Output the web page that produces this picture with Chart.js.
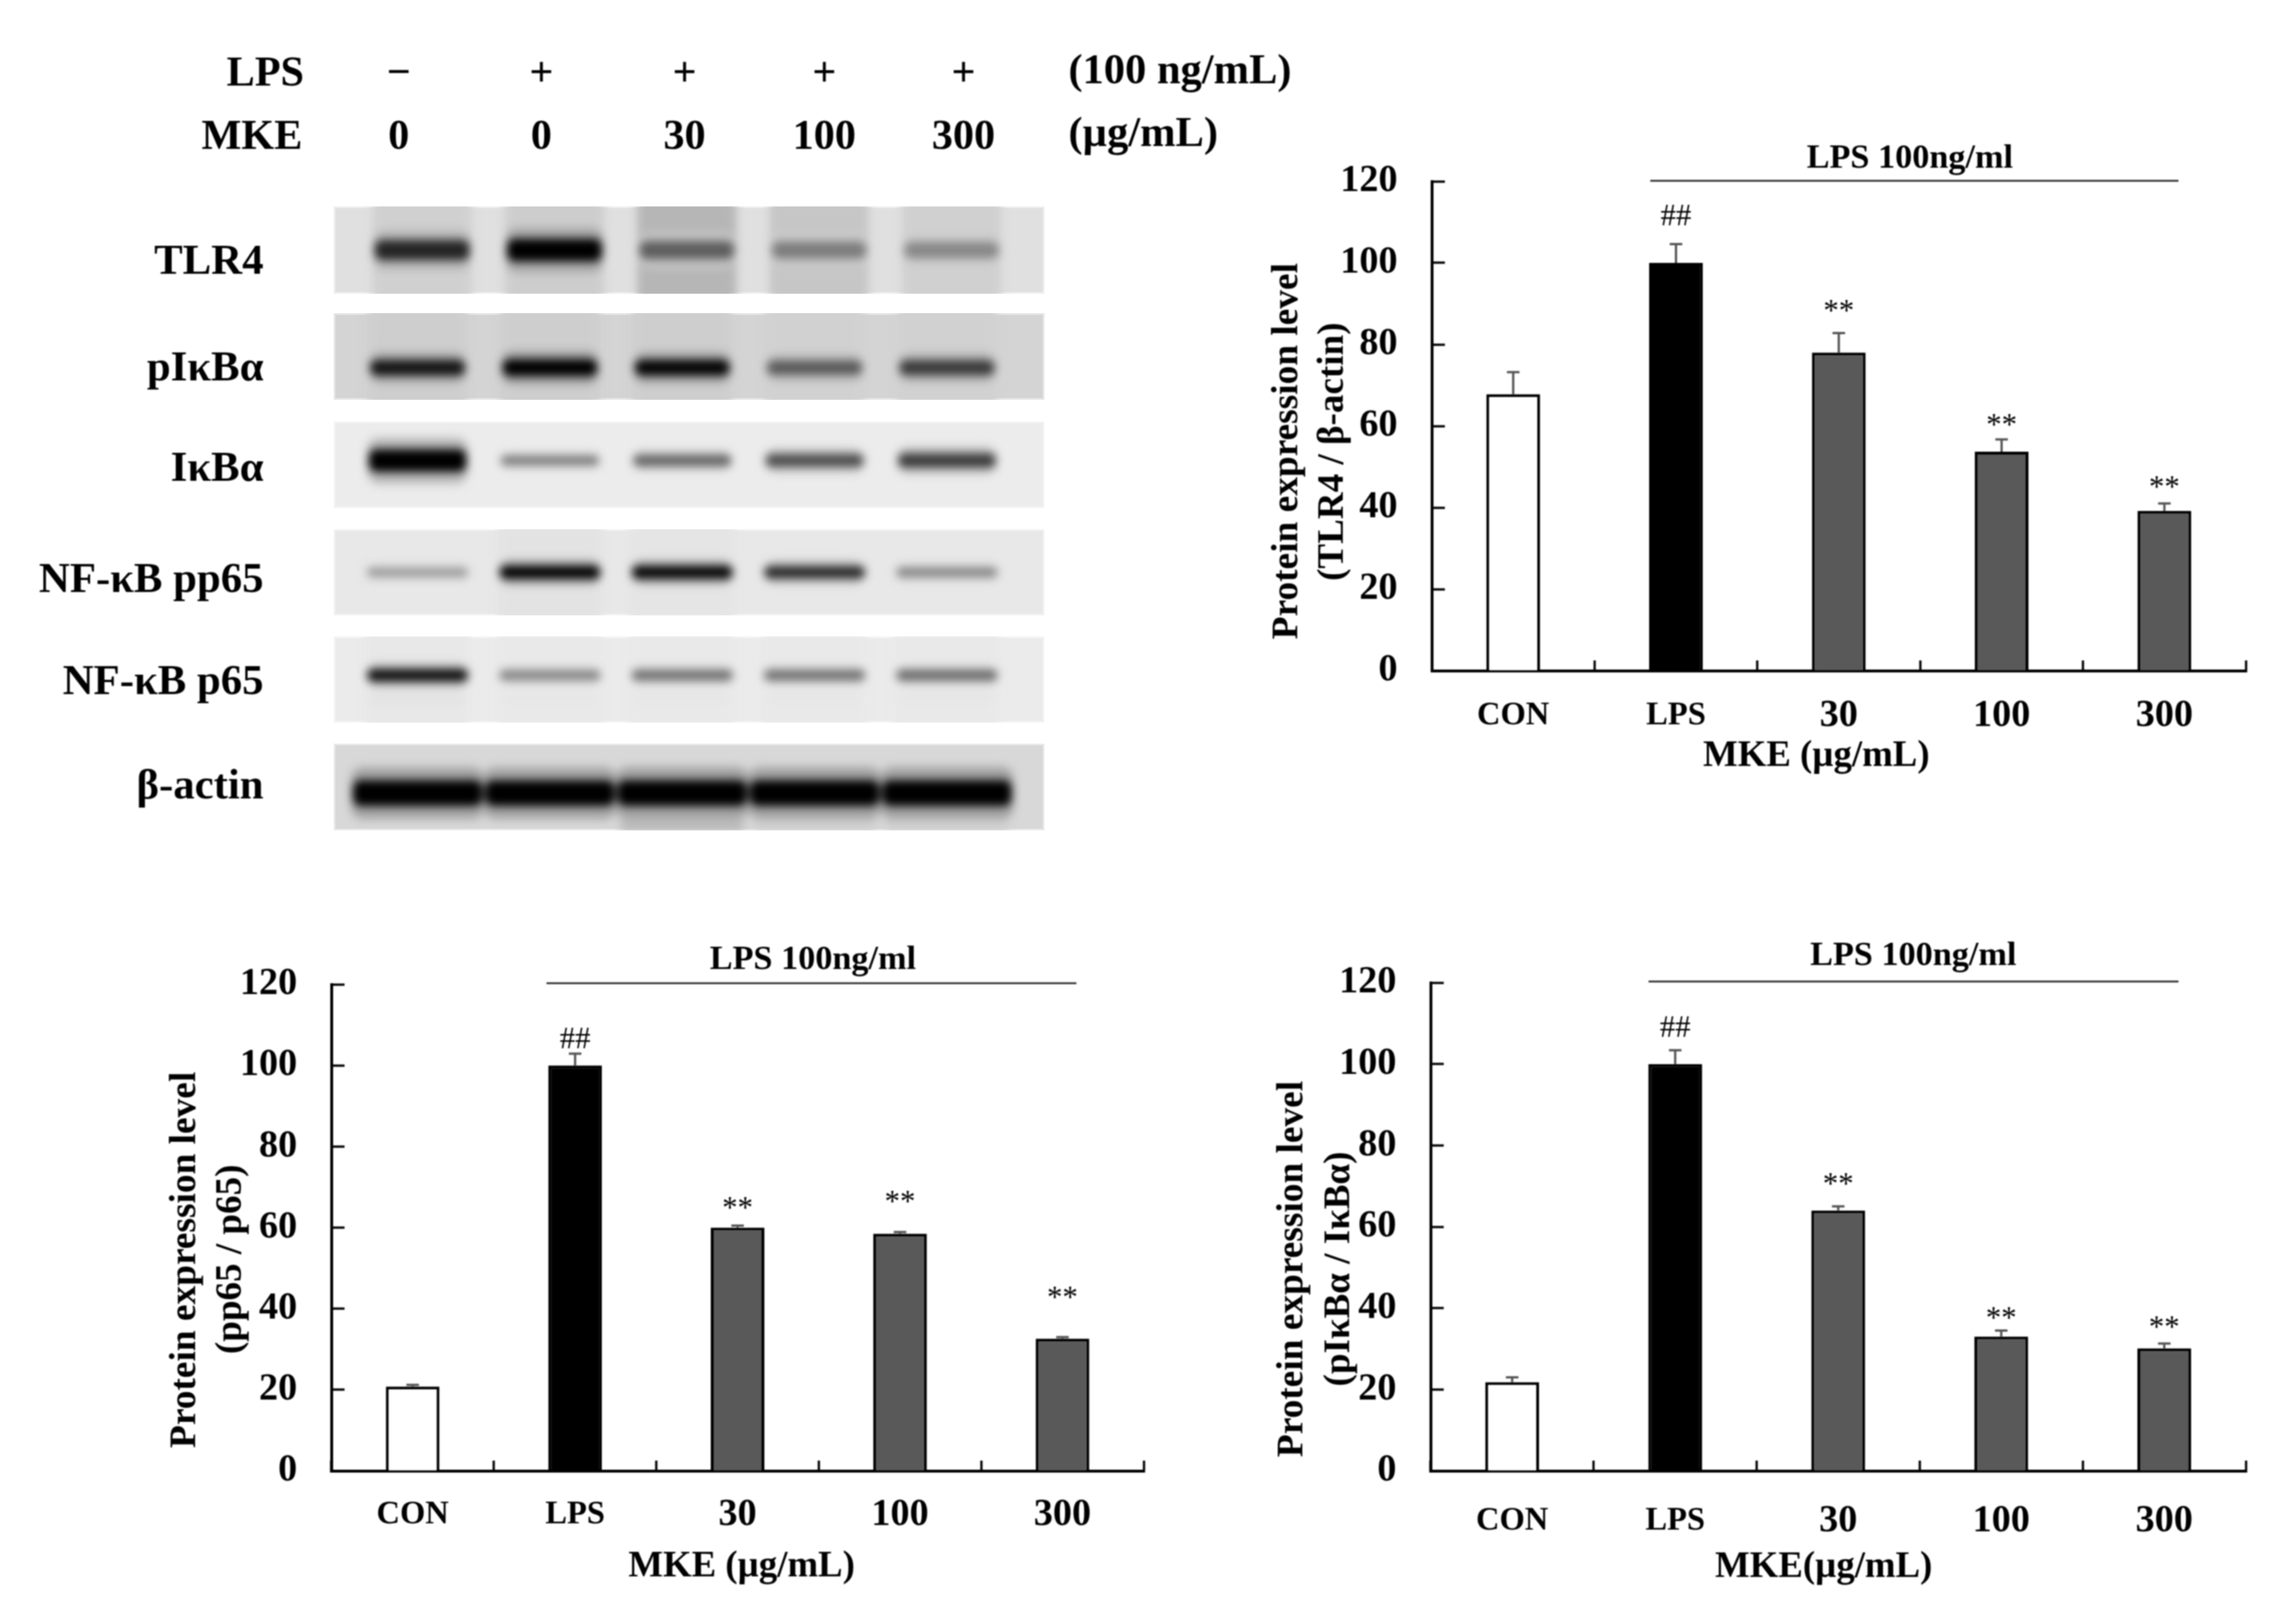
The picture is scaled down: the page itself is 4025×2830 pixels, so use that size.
<!DOCTYPE html>
<html>
<head>
<meta charset="utf-8">
<title>MKE western blot</title>
<script src="https://cdn.jsdelivr.net/npm/chart.js@4"></script>
<style>
  html, body { margin: 0; background: #fff; }
  #page { position: relative; width: 4025px; height: 2830px; overflow: hidden; }
  #page canvas { position: absolute; filter: blur(0.8px); }
  .panel { position: absolute; left: 585px; width: 1246px; overflow: hidden; box-shadow: inset 0 0 0 3px rgba(255,255,255,.45); }
  #page .panel canvas { filter: blur(8px); }
</style>
</head>
<body>
<div id="page"></div>
<script>
const categories = ['CON', 'LPS', '30', '100', '300'];

const tlr4Values = [67.8, 100, 78, 53.7, 39.2];
const tlr4Errors = [5.4, 4.6, 4.8, 3, 1.8];
const tlr4Marks = ['', '##', '**', '**', '**'];
const tlr4MarkLevels = [0, 111.8, 89.5, 61.4, 46.2];

const pp65Values = [20.8, 100, 60, 58.5, 32.6];
const pp65Errors = [0.4, 2.9, 0.5, 0.4, 0.4];
const pp65Marks = ['', '##', '**', '**', '**'];
const pp65MarkLevels = [0, 106.8, 66, 67.6, 43.9];

const pikbaValues = [21.8, 100, 64, 33, 30.1];
const pikbaErrors = [1.2, 3.4, 1, 1.5, 1.2];
const pikbaMarks = ['', '##', '**', '**', '**'];
const pikbaMarkLevels = [0, 109.2, 71.7, 38.7, 36.5];

// lanes of the blots: band darkness, background smear and faint lower band, 0-100
const lpsRow = ['\u2212', '+', '+', '+', '+'];
const mkeRow = ['0', '0', '30', '100', '300'];
const tlr4Bands = [72, 100, 50, 38, 34];
const tlr4Smears = [10, 12, 26, 16, 10];
const tlr4Ghosts = [0, 0, 0, 0, 0];
const pikbaBands = [74, 92, 80, 48, 60];
const pikbaSmears = [4, 4, 4, 2, 2];
const pikbaGhosts = [0, 0, 0, 0, 0];
const ikbaBands = [100, 46, 54, 62, 68];
const ikbaSmears = [0, 0, 0, 0, 0];
const ikbaGhosts = [14, 0, 0, 0, 0];
const pp65Bands = [32, 92, 88, 75, 40];
const pp65Smears = [0, 3, 2, 0, 0];
const pp65Ghosts = [0, 0, 0, 0, 0];
const p65Bands = [86, 42, 50, 50, 52];
const p65Smears = [2, 1, 1, 1, 1];
const p65Ghosts = [8, 4, 4, 4, 4];
const actinBands = [97, 96, 99, 98, 99];
const actinSmears = [0, 0, 0, 0, 0];
const actinGhosts = [0, 0, 28, 8, 8];

const SERIF = '"Liberation Serif", serif';
const AXIS_BLACK = '#000';
const page = document.getElementById('page');

function drawLabel(ctx, t) {
  ctx.save();
  ctx.font = `${t.weight || 'bold'} ${t.size}px ${SERIF}`;
  ctx.fillStyle = '#000';
  ctx.textBaseline = 'alphabetic';
  ctx.textAlign = t.align || 'center';
  const m = ctx.measureText(t.text);
  ctx.translate(t.x, t.y);
  if (t.rotate) ctx.rotate(-Math.PI / 2);
  ctx.fillText(t.text, 0, (m.actualBoundingBoxAscent - m.actualBoundingBoxDescent) / 2);
  ctx.restore();
}

// whiskers, significance marks, the LPS rule and the free axis titles
const figurePlugin = {
  id: 'figure',
  afterDatasetsDraw(chart, args, opts) {
    const ctx = chart.ctx;
    const y = chart.scales.y;
    const bars = chart.getDatasetMeta(0).data;
    ctx.save();
    ctx.strokeStyle = '#555';
    ctx.lineWidth = 4;
    opts.errors.forEach((err, i) => {
      const x = bars[i].x;
      const top = y.getPixelForValue(opts.values[i] + err);
      ctx.beginPath();
      ctx.moveTo(x, y.getPixelForValue(opts.values[i]));
      ctx.lineTo(x, top);
      ctx.moveTo(x - 11, top);
      ctx.lineTo(x + 11, top);
      ctx.stroke();
    });
    ctx.restore();
    opts.marks.forEach((mark, i) => {
      if (mark) drawLabel(ctx, { text: mark, x: bars[i].x, y: y.getPixelForValue(opts.markLevels[i]), size: 54, weight: 'normal' });
    });
    ctx.save();
    ctx.translate(-opts.box.left, -opts.box.top);
    ctx.strokeStyle = '#222';
    ctx.lineWidth = 3;
    ctx.beginPath();
    ctx.moveTo(opts.rule.x1, opts.rule.y);
    ctx.lineTo(opts.rule.x2, opts.rule.y);
    ctx.stroke();
    opts.labels.forEach(t => drawLabel(ctx, t));
    ctx.restore();
  }
};

function barChart(c) {
  const box = {
    left: c.plot.left - 330,
    top: c.plot.top - 100,
    width: c.plot.right - c.plot.left + 380,
    height: c.plot.bottom - c.plot.top + 310
  };
  const canvas = document.createElement('canvas');
  canvas.width = box.width;
  canvas.height = box.height;
  canvas.style.left = box.left + 'px';
  canvas.style.top = box.top + 'px';
  page.appendChild(canvas);
  new Chart(canvas.getContext('2d'), {
    type: 'bar',
    plugins: [figurePlugin],
    data: {
      labels: categories,
      datasets: [{
        data: c.values,
        backgroundColor: ['#fff', '#000', '#595959', '#595959', '#595959'],
        borderColor: '#000',
        borderWidth: 5,
        borderSkipped: 'bottom',
        barPercentage: 0.33,
        categoryPercentage: 1
      }]
    },
    options: {
      responsive: false,
      animation: false,
      layout: { padding: { top: 100, right: 50 } },
      plugins: {
        legend: { display: false },
        tooltip: { enabled: false },
        figure: {
          box,
          values: c.values,
          errors: c.errors,
          marks: c.marks,
          markLevels: c.markLevels,
          rule: c.rule,
          labels: c.labels
        }
      },
      scales: {
        x: {
          afterFit: s => { s.height = 210; },
          border: { color: AXIS_BLACK, width: 5 },
          grid: { drawOnChartArea: false, tickLength: -18, tickWidth: 4, tickColor: AXIS_BLACK },
          ticks: {
            color: '#000',
            padding: c.labelPad,
            maxRotation: 0,
            autoSkip: false,
            font: t => t.index < 2
              ? { family: SERIF, weight: 'bold', size: 57, lineHeight: 1.41 }
              : { family: SERIF, weight: 'bold', size: 67, lineHeight: 1.2 }
          }
        },
        y: {
          min: 0,
          max: 120,
          afterFit: s => { s.width = 330; s.paddingTop = 0; s.paddingBottom = 0; },
          border: { color: AXIS_BLACK, width: 5 },
          grid: { drawOnChartArea: false, tickLength: -23, tickWidth: 4, tickColor: AXIS_BLACK },
          ticks: {
            stepSize: 20,
            color: '#000',
            padding: 83,
            font: { family: SERIF, weight: 'bold', size: 67 }
          }
        }
      }
    }
  });
}

barChart({
  plot: { left: 2510, right: 3937, top: 318, bottom: 1176 },
  values: tlr4Values, errors: tlr4Errors, marks: tlr4Marks, markLevels: tlr4MarkLevels,
  labelPad: 57,
  rule: { x1: 2893, x2: 3819, y: 317 },
  labels: [
    { text: 'LPS 100ng/ml', x: 3348, y: 280, size: 60 },
    { text: 'Protein expression level', x: 2258, y: 791, size: 65.5, rotate: true },
    { text: '(TLR4 / \u03b2-actin)', x: 2338, y: 792, size: 65, rotate: true },
    { text: 'MKE (\u00b5g/mL)', x: 3184, y: 1327, size: 64.5 }
  ]
});

barChart({
  plot: { left: 581, right: 2005, top: 1726, bottom: 2579 },
  values: pp65Values, errors: pp65Errors, marks: pp65Marks, markLevels: pp65MarkLevels,
  labelPad: 55,
  rule: { x1: 958, x2: 1887, y: 1724 },
  labels: [
    { text: 'LPS 100ng/ml', x: 1425, y: 1685, size: 60 },
    { text: 'Protein expression level', x: 326, y: 2209, size: 65.5, rotate: true },
    { text: '(pp65 / p65)', x: 406, y: 2208, size: 65, rotate: true },
    { text: 'MKE (\u00b5g/mL)', x: 1300, y: 2748, size: 64.5 }
  ]
});

barChart({
  plot: { left: 2508, right: 3937, top: 1723, bottom: 2579 },
  values: pikbaValues, errors: pikbaErrors, marks: pikbaMarks, markLevels: pikbaMarkLevels,
  labelPad: 66,
  rule: { x1: 2890, x2: 3819, y: 1721 },
  labels: [
    { text: 'LPS 100ng/ml', x: 3354, y: 1678, size: 60 },
    { text: 'Protein expression level', x: 2267, y: 2225, size: 65.5, rotate: true },
    { text: '(pI\u03baB\u03b1 / I\u03baB\u03b1)', x: 2349, y: 2225, size: 65, rotate: true },
    { text: 'MKE(\u00b5g/mL)', x: 3197, y: 2749, size: 64.5 }
  ]
});

// one small blurred bar chart per blot panel
function blotChart(b) {
  const panel = document.createElement('div');
  panel.className = 'panel';
  panel.style.top = b.top + 'px';
  panel.style.height = b.height + 'px';
  panel.style.background = b.background;
  page.appendChild(panel);

  const canvas = document.createElement('canvas');
  canvas.width = 1240;
  canvas.height = b.height + 60;
  canvas.style.left = (b.shift - 9) + 'px';
  canvas.style.top = '-30px';
  panel.appendChild(canvas);

  const thickness = d => b.minThick + (b.maxThick - b.minThick) * d / 100;
  const band = (d, k, c = b.center) => [c - thickness(d) * k / 2, c + thickness(d) * k / 2];
  const tone = (d, k) => {
    const g = Math.round(Math.max(0, b.base - d * k));
    return `rgb(${g},${g},${g})`;
  };

  new Chart(canvas.getContext('2d'), {
    type: 'bar',
    data: {
      labels: mkeRow,
      datasets: [
        {
          data: b.bands.map(d => band(d, 1)),
          backgroundColor: b.bands.map(d => tone(d, 2.6)),
          barPercentage: b.lane,
          borderRadius: 14,
          borderSkipped: false,
          clip: false
        },
        {
          data: b.bands.map(d => band(d, 2)),
          backgroundColor: b.bands.map(d => tone(d, 0.55)),
          barPercentage: b.lane + 0.02,
          borderRadius: 20,
          borderSkipped: false,
          clip: false
        },
        {
          data: b.ghosts.map(() => [b.ghostCenter - 7, b.ghostCenter + 7]),
          backgroundColor: b.ghosts.map(d => d > 0 ? tone(d, 1) : 'rgba(0,0,0,0)'),
          barPercentage: b.lane - 0.05,
          clip: false
        },
        {
          data: b.smears.map(() => [-10, 110]),
          backgroundColor: b.smears.map(d => d > 0 ? tone(d, 1.6) : 'rgba(0,0,0,0)'),
          barPercentage: b.lane + 0.03,
          clip: false
        }
      ]
    },
    options: {
      responsive: false,
      animation: false,
      layout: { padding: { left: 40, right: 40, top: 30, bottom: 30 } },
      plugins: { legend: { display: false }, tooltip: { enabled: false } },
      datasets: { bar: { grouped: false, categoryPercentage: 1 } },
      scales: {
        x: { display: false },
        y: { display: false, min: 0, max: 100, reverse: true }
      }
    }
  });
}

blotChart({ top: 362, height: 153, background: '#e0e0e0', base: 224, shift: 8, center: 50, minThick: 16, maxThick: 26, lane: 0.72, ghostCenter: 80, bands: tlr4Bands, smears: tlr4Smears, ghosts: tlr4Ghosts });
blotChart({ top: 549, height: 152, background: '#d4d4d4', base: 212, shift: 0, center: 63, minThick: 12, maxThick: 20, lane: 0.72, ghostCenter: 90, bands: pikbaBands, smears: pikbaSmears, ghosts: pikbaGhosts });
blotChart({ top: 739, height: 152, background: '#ececec', base: 236, shift: 0, center: 45, minThick: -4, maxThick: 26, lane: 0.74, ghostCenter: 66, bands: ikbaBands, smears: ikbaSmears, ghosts: ikbaGhosts });
blotChart({ top: 928, height: 151, background: '#e8e8e8', base: 232, shift: 0, center: 50, minThick: 6, maxThick: 16, lane: 0.76, ghostCenter: 80, bands: pp65Bands, smears: pp65Smears, ghosts: pp65Ghosts });
blotChart({ top: 1116, height: 151, background: '#ebebeb', base: 235, shift: 0, center: 45, minThick: 7, maxThick: 15, lane: 0.76, ghostCenter: 72, bands: p65Bands, smears: p65Smears, ghosts: p65Ghosts });
blotChart({ top: 1304, height: 152, background: '#d8d8d8', base: 216, shift: 0, center: 57, minThick: 20, maxThick: 30, lane: 0.98, ghostCenter: 95, bands: actinBands, smears: actinSmears, ghosts: actinGhosts });

// headings and blot names on a canvas of their own, over the whole left part
const textCanvas = document.createElement('canvas');
textCanvas.width = 2300;
textCanvas.height = 1500;
textCanvas.style.left = '0px';
textCanvas.style.top = '0px';
page.appendChild(textCanvas);
const rowLanes = [699, 949, 1200, 1445, 1689];
const blotLabels = [
  ['TLR4', 455], ['pI\u03baB\u03b1', 650], ['I\u03baB\u03b1', 819],
  ['NF-\u03baB pp65', 1021], ['NF-\u03baB p65', 1200], ['\u03b2-actin', 1382]
];
new Chart(textCanvas.getContext('2d'), {
  type: 'bar',
  plugins: [{
    id: 'headings',
    afterDraw(chart) {
      const ctx = chart.ctx;
      drawLabel(ctx, { text: 'LPS', x: 533, y: 125, size: 74, align: 'right' });
      drawLabel(ctx, { text: 'MKE', x: 530, y: 236, size: 74, align: 'right' });
      lpsRow.forEach((s, i) => drawLabel(ctx, { text: s, x: rowLanes[i], y: 125, size: 74 }));
      mkeRow.forEach((s, i) => drawLabel(ctx, { text: s, x: rowLanes[i], y: 236, size: 74 }));
      drawLabel(ctx, { text: '(100 ng/mL)', x: 1873, y: 128, size: 74.5, align: 'left' });
      drawLabel(ctx, { text: '(\u00b5g/mL)', x: 1873, y: 238, size: 74.5, align: 'left' });
      blotLabels.forEach(([text, y]) => drawLabel(ctx, { text, x: 462, y, size: 75, align: 'right' }));
    }
  }],
  data: { labels: [], datasets: [] },
  options: {
    responsive: false,
    animation: false,
    plugins: { legend: { display: false }, tooltip: { enabled: false } },
    scales: { x: { display: false }, y: { display: false } }
  }
});
</script>
</body>
</html>
